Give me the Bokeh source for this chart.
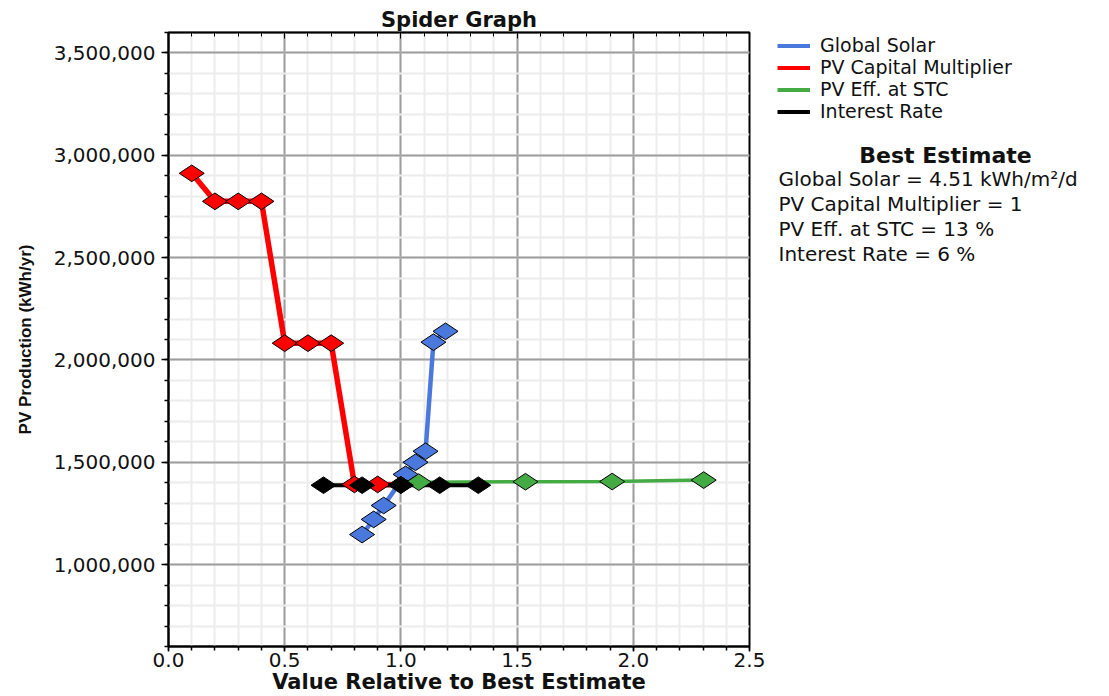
import math
from bokeh.plotting import figure
from bokeh.layouts import row
from bokeh.models import (Range1d, SingleIntervalTicker, LinearAxis, NumeralTickFormatter,
                          Legend, LegendItem, Label, CustomJSTickFormatter)
from bokeh.embed import file_html
from bokeh.resources import INLINE

FONT = "DejaVu Sans"

# ---- data ----
series_names = ["Global Solar", "PV Capital Multiplier", "PV Eff. at STC", "Interest Rate"]
series_colors = ["#4a78dc", "#ff0000", "#44aa44", "#000000"]
series_widths = [4.5, 5.5, 3.5, 4]

global_solar_x = [0.833, 0.883, 0.926, 1.02, 1.063, 1.106, 1.140, 1.192]
global_solar_y = [1147000, 1221000, 1289000, 1441000, 1500000, 1554000, 2087000, 2140000]

capital_x = [0.1, 0.2, 0.3, 0.4, 0.5, 0.6, 0.7, 0.8, 0.9, 1.0]
capital_y = [2912000, 2775000, 2775000, 2775000, 2082000, 2082000, 2082000, 1392000, 1392000, 1390000]

eff_x = [1.0, 1.077, 1.536, 1.909, 2.303]
eff_y = [1390000, 1403000, 1405000, 1406000, 1413000]

interest_x = [0.667, 0.833, 1.0, 1.167, 1.333]
interest_y = [1388000, 1388000, 1388000, 1388000, 1388000]

x_ticks_interval = 0.5
y_ticks_interval = 500000

best_estimate_title = "Best Estimate"
best_estimate_lines = [
    "Global Solar = 4.51 kWh/m\u00b2/d",
    "PV Capital Multiplier = 1",
    "PV Eff. at STC = 13 %",
    "Interest Rate = 6 %",
]

chart_title = "Spider Graph"
x_label = "Value Relative to Best Estimate"
y_label = "PV Production (kWh/yr)"

MAIN_W = 770
SIDE_W = 1109 - MAIN_W
H = 696
FRAME_TOP = 32
FRAME_BOTTOM = 646

# ---- main figure ----
p = figure(width=MAIN_W, height=H, output_backend="svg", toolbar_location=None,
           x_range=Range1d(0, 2.5), y_range=Range1d(600000, 3600000),
           min_border_left=168, min_border_right=21, min_border_top=FRAME_TOP,
           min_border_bottom=H - FRAME_BOTTOM,
           background_fill_color="white", border_fill_color="white")

p.title.text = chart_title
p.title.align = "center"
p.title.text_font = FONT
p.title.text_font_size = "21px"
p.title.text_font_style = "bold"
p.title.text_color = "#111111"
p.title.standoff = 1

p.outline_line_color = "black"
p.outline_line_width = 2
p.outline_line_alpha = 1

xt = SingleIntervalTicker(interval=x_ticks_interval, num_minor_ticks=5)
yt = SingleIntervalTicker(interval=y_ticks_interval, num_minor_ticks=5)

xa = p.xaxis[0]
xa.ticker = xt
xa.formatter = NumeralTickFormatter(format="0.0")
ya = p.yaxis[0]
ya.ticker = yt
ya.formatter = NumeralTickFormatter(format="0,0")

for ax in (xa, ya):
    ax.axis_line_color = "black"
    ax.axis_line_width = 2
    ax.major_tick_line_color = "black"
    ax.minor_tick_line_color = "black"
    ax.major_tick_line_width = 1.5
    ax.minor_tick_line_width = 1.5
    ax.major_tick_in = 0
    ax.minor_tick_in = 0
    ax.major_label_text_font = FONT
    ax.major_label_text_font_size = "20px"
    ax.major_label_text_color = "#111111"
    ax.axis_label_text_color = "#111111"
    ax.axis_label_text_font_style = "bold"

xa.major_tick_out = 5
xa.minor_tick_out = 4
xa.major_label_standoff = 1
xa.axis_label = x_label
xa.axis_label_text_font = FONT
xa.axis_label_text_font_size = "21px"
xa.axis_label_standoff = 0

ya.major_tick_out = 7
ya.minor_tick_out = 4
ya.major_label_standoff = 6
ya.axis_label = y_label
ya.axis_label_text_font = "Liberation Sans"
ya.axis_label_text_font_size = "17px"
ya.axis_label_standoff = 16

top_axis = LinearAxis(ticker=SingleIntervalTicker(interval=x_ticks_interval, num_minor_ticks=5),
                      formatter=CustomJSTickFormatter(code="return ''"),
                      major_tick_in=6, major_tick_out=0, minor_tick_in=4, minor_tick_out=0,
                      major_label_text_font_size="1px", major_label_standoff=0,
                      axis_line_color="black", axis_line_width=1.5,
                      major_tick_line_color="black", minor_tick_line_color="black")
p.add_layout(top_axis, "above")

for g in (p.xgrid[0], p.ygrid[0]):
    g.grid_line_color = "#9e9e9e"
    g.grid_line_width = 2
    g.minor_grid_line_color = "#ececec"
    g.minor_grid_line_width = 2

# ---- series ----
xs = [global_solar_x, capital_x, eff_x, interest_x]
ys = [global_solar_y, capital_y, eff_y, interest_y]

for x, y, c, w in zip(xs, ys, series_colors, series_widths):
    p.line(x, y, line_color=c, line_width=w)

for x, y, c in zip(xs, ys, series_colors):
    p.scatter(x, y, marker="diamond", size=25, angle=math.pi / 2,
              fill_color=c, line_color="black", line_width=1)

# ---- side panel: legend + best estimate block (page-pixel coordinates) ----
# the row aligns this panel's frame with the main frame (FRAME_TOP..FRAME_BOTTOM)
side = figure(width=SIDE_W, height=H, output_backend="svg", toolbar_location=None,
              x_range=Range1d(MAIN_W, 1109), y_range=Range1d(FRAME_BOTTOM, FRAME_TOP),
              x_axis_location=None, y_axis_location=None,
              min_border=0, background_fill_color="white", border_fill_color="white")
side.outline_line_color = None
side.xgrid.visible = False
side.ygrid.visible = False

nan = float("nan")
legend_renderers = []
for c in series_colors:
    legend_renderers.append(side.line(x=[nan], y=[nan], line_color=c, line_width=4))

legend = Legend(items=[LegendItem(label=n, renderers=[r]) for n, r in zip(series_names, legend_renderers)],
                location=(777 - MAIN_W, FRAME_BOTTOM - FRAME_TOP - 90), orientation="vertical",
                label_text_font=FONT, label_text_font_size="19px", label_text_color="#111111",
                glyph_width=33, glyph_height=21, label_height=21, label_standoff=10,
                spacing=0, padding=0, margin=0,
                border_line_alpha=0, background_fill_alpha=0)
side.add_layout(legend, "center")

side.add_layout(Label(x=945, y=155, text=best_estimate_title,
                      text_align="center", text_baseline="middle", text_font=FONT,
                      text_font_size="22px", text_font_style="bold", text_color="#111111"))
for i, t in enumerate(best_estimate_lines):
    side.add_layout(Label(x=778, y=178 + 25 * i, text=t,
                          text_align="left", text_baseline="middle", text_font=FONT,
                          text_font_size="20px", text_color="#111111"))

layout = row(p, side, spacing=0)
open("out.html", "w").write(file_html(layout, INLINE))
